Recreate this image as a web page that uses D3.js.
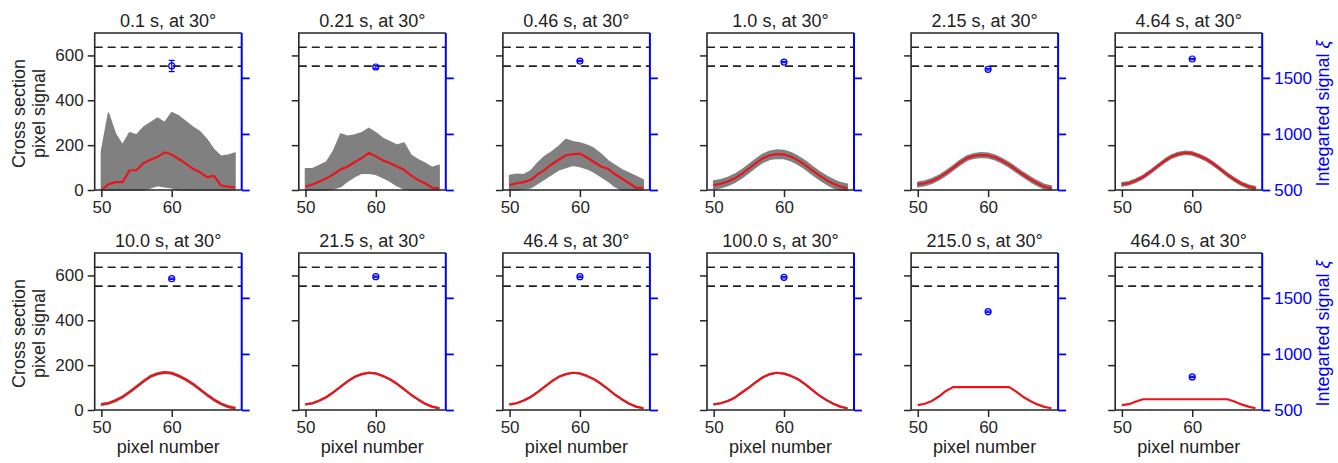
<!DOCTYPE html>
<html>
<head>
<meta charset="utf-8">
<script src="https://cdn.jsdelivr.net/npm/d3@7"></script>
<style>
  body { margin: 0; background: #fff; }
  text { font-family: Arial, 'Liberation Sans', sans-serif; fill: #222; }
</style>
</head>
<body>
<script>
const pixels = [50, 51, 52, 53, 54, 55, 56, 57, 58, 59, 60, 61, 62, 63, 64, 65, 66, 67, 68, 69];

const times = ['0.1', '0.21', '0.46', '1.0', '2.15', '4.64', '10.0', '21.5', '46.4', '100.0', '215.0', '464.0'];

// mean cross section (red line), one array per exposure time
const meanProfiles = [
  [0, 25, 35, 35, 88, 88, 120, 135, 148, 168, 158, 138, 118, 95, 80, 57, 63, 20, 15, 12],
  [15, 25, 38, 52, 70, 92, 105, 125, 142, 166, 150, 132, 120, 105, 90, 65, 45, 30, 10, 8],
  [22, 30, 35, 45, 70, 90, 115, 135, 155, 160, 162, 145, 125, 105, 95, 70, 50, 30, 10, 10],
  [22, 28, 38, 52, 72, 95, 120, 142, 155, 160, 158, 148, 132, 112, 88, 65, 45, 28, 15, 8],
  [25, 30, 40, 55, 75, 98, 122, 142, 152, 156, 154, 145, 130, 112, 90, 68, 48, 30, 15, 8],
  [25, 30, 42, 58, 80, 104, 128, 148, 160, 166, 163, 152, 137, 117, 93, 68, 47, 28, 15, 8],
  [25, 30, 42, 58, 80, 104, 128, 150, 162, 168, 164, 152, 136, 116, 92, 68, 46, 28, 15, 8],
  [25, 30, 42, 58, 80, 104, 128, 148, 160, 166, 163, 152, 137, 117, 93, 68, 47, 28, 15, 8],
  [25, 30, 42, 58, 80, 104, 128, 148, 160, 166, 163, 152, 137, 117, 93, 68, 47, 28, 15, 8],
  [25, 30, 40, 55, 78, 100, 124, 146, 160, 166, 162, 152, 137, 115, 90, 65, 45, 28, 15, 8],
  [22, 28, 40, 60, 85, 102, 102, 102, 102, 102, 102, 102, 102, 102, 82, 58, 40, 25, 14, 8],
  [22, 26, 38, 48, 48, 48, 48, 48, 48, 48, 48, 48, 48, 48, 48, 48, 38, 25, 15, 8],
];

// envelope of the single-frame traces (grey) for the noisy short exposures
const grayUpper = [
  [170, 342, 250, 200, 255, 245, 280, 300, 320, 300, 345, 330, 305, 280, 260, 225, 180, 150, 155, 165],
  [95, 95, 110, 125, 175, 250, 240, 245, 255, 275, 255, 230, 215, 200, 210, 155, 135, 120, 100, 110],
  [65, 70, 68, 85, 120, 150, 170, 195, 225, 215, 210, 200, 185, 160, 130, 110, 90, 75, 60, 45],
];
const grayLower = [
  [0, 0, 0, 0, 0, 0, 0, 10, 20, 15, 10, 0, 0, 0, 0, 0, 0, 0, 0, 0],
  [0, 0, 0, 0, 5, 15, 40, 60, 75, 75, 70, 55, 40, 20, 5, 0, 0, 0, 0, 0],
  [0, 0, 5, 10, 30, 50, 70, 90, 100, 110, 105, 95, 80, 60, 40, 15, 0, 0, 0, 0],
];
// half width of the grey band for the longer exposures
const graySpread = [null, null, null, 18, 10, 7, 4, 2, 1.5, 1.5, 0, 0];

// integrated signal xi (right axis) with error
const xi = [1606, 1597, 1650, 1641, 1576, 1668, 1671, 1689, 1689, 1683, 1377, 795];
const xiErr = [50, 12, 6, 6, 6, 6, 6, 6, 6, 6, 6, 6];
const xiLimits = [1773, 1605];

const leftTicks = [0, 200, 400, 600];
const rightTicks = [500, 1000, 1500];
const bottomTicks = [50, 60];

const WIDTH = 1338;
const HEIGHT = 463;
const PW = 147;
const PH = 157;
const COL_X = 94.7;
const COL_STEP = 204.1;
const ROW_Y = [33, 253];
const BLUE = '#0000ff';
const DARK = '#262626';
const TICK_FONT = '17px';
const LABEL_FONT = '18px';

const svg = d3.select('body').append('svg')
    .attr('width', WIDTH)
    .attr('height', HEIGHT);

const x = d3.scaleLinear().domain([49.05, 69.95]).range([0, PW]);
const yL = d3.scaleLinear().domain([0, 700]).range([PH, 0]);
const yR = d3.scaleLinear().domain([500, 1900]).range([PH, 0]);

const line = d3.line().x((d) => x(d[0])).y((d) => yL(d[1]));
const band = d3.area()
    .x((d) => x(d[0]))
    .y0((d) => yL(d[1]))
    .y1((d) => yL(d[2]));

times.forEach((t, i) => {
  const col = i % 6;
  const row = Math.floor(i / 6);
  const g = svg.append('g')
      .attr('transform', `translate(${COL_X + col * COL_STEP}, ${ROW_Y[row]})`);

  // grey band of individual traces
  let lo;
  let hi;
  if (i < grayUpper.length) {
    lo = grayLower[i];
    hi = grayUpper[i];
  } else if (graySpread[i]) {
    lo = meanProfiles[i].map((v) => Math.max(0, v - graySpread[i]));
    hi = meanProfiles[i].map((v) => v + graySpread[i]);
  }
  if (lo) {
    const bandData = pixels.map((p, k) => [p, lo[k], hi[k]]);
    g.append('path')
        .datum(bandData)
        .attr('d', band)
        .attr('fill', '#808080')
        .attr('stroke', '#808080')
        .attr('stroke-width', 1.5)
        .attr('stroke-linejoin', 'round');
  }

  // mean profile
  g.append('path')
      .datum(pixels.map((p, k) => [p, meanProfiles[i][k]]))
      .attr('d', line)
      .attr('fill', 'none')
      .attr('stroke', '#e8151b')
      .attr('stroke-width', 2.2)
      .attr('stroke-linejoin', 'round');

  // dashed reference levels
  g.selectAll('line.limit')
      .data(xiLimits)
      .join('line')
      .attr('class', 'limit')
      .attr('x1', 0)
      .attr('x2', PW)
      .attr('y1', (d) => yR(d))
      .attr('y2', (d) => yR(d))
      .attr('stroke', '#222')
      .attr('stroke-width', 1.6)
      .attr('stroke-dasharray', '8,5');

  // integrated signal point with error bar
  const px = x(60);
  const py = yR(xi[i]);
  const pTop = yR(xi[i] + xiErr[i]);
  const pBot = yR(xi[i] - xiErr[i]);
  g.append('line')
      .attr('x1', px).attr('x2', px)
      .attr('y1', pTop).attr('y2', pBot)
      .attr('stroke', BLUE)
      .attr('stroke-width', 1.2);
  [pTop, pBot].forEach((cy) => {
    g.append('line')
        .attr('x1', px - 3).attr('x2', px + 3)
        .attr('y1', cy).attr('y2', cy)
        .attr('stroke', BLUE)
        .attr('stroke-width', 1.2);
  });
  g.append('circle')
      .attr('cx', px)
      .attr('cy', py)
      .attr('r', 3)
      .attr('fill', 'none')
      .attr('stroke', BLUE)
      .attr('stroke-width', 1.2);

  // axes
  const left = g.append('g')
      .call(d3.axisLeft(yL).tickValues(leftTicks).tickSize(7).tickPadding(4)
          .tickFormat(col === 0 ? d3.format('d') : () => ''));
  const bottom = g.append('g')
      .attr('transform', `translate(0, ${PH})`)
      .call(d3.axisBottom(x).tickValues(bottomTicks).tickSize(7).tickPadding(4));
  const right = g.append('g')
      .attr('transform', `translate(${PW}, 0)`)
      .call(d3.axisRight(yR).tickValues(rightTicks).tickSize(8).tickPadding(4)
          .tickFormat(col === 5 ? d3.format('d') : () => ''));

  [left, bottom, right].forEach((a) => {
    a.select('.domain').remove();
    a.selectAll('text')
        .style('font-size', TICK_FONT)
        .style('font-family', 'Arial, "Liberation Sans", sans-serif');
  });
  left.selectAll('line').attr('stroke', DARK).attr('stroke-width', 1.5);
  bottom.selectAll('line').attr('stroke', DARK).attr('stroke-width', 1.5);
  left.selectAll('text').style('fill', DARK);
  bottom.selectAll('text').style('fill', DARK);
  right.selectAll('line').attr('stroke', BLUE).attr('stroke-width', 1.8);
  right.selectAll('text').style('fill', BLUE);

  // spines
  g.append('path')
      .attr('d', `M${PW},0H0V${PH}H${PW}`)
      .attr('fill', 'none')
      .attr('stroke', DARK)
      .attr('stroke-width', 1.6);
  g.append('line')
      .attr('x1', PW).attr('x2', PW)
      .attr('y1', 0).attr('y2', PH)
      .attr('stroke', BLUE)
      .attr('stroke-width', 2);

  // title
  g.append('text')
      .attr('x', PW / 2)
      .attr('y', -6)
      .attr('text-anchor', 'middle')
      .style('font-size', LABEL_FONT)
      .text(`${t} s, at 30°`);

  if (row === 1) {
    g.append('text')
        .attr('x', PW / 2)
        .attr('y', PH + 43)
        .attr('text-anchor', 'middle')
        .style('font-size', LABEL_FONT)
        .text('pixel number');
  }

  if (col === 0) {
    const yl = g.append('text')
        .attr('transform', `translate(-70, ${PH / 2 + 2}) rotate(-90)`)
        .attr('text-anchor', 'middle')
        .style('font-size', LABEL_FONT);
    yl.append('tspan').attr('x', 0).attr('dy', 0).text('Cross section');
    yl.append('tspan').attr('x', 0).attr('dy', 20).text('pixel signal');
  }

  if (col === 5) {
    const yr = g.append('text')
        .attr('transform', `translate(${PW + 67}, ${PH / 2 + 2}) rotate(-90)`)
        .attr('text-anchor', 'middle')
        .style('font-size', LABEL_FONT)
        .style('fill', BLUE);
    yr.append('tspan').text('Integarted signal ');
    yr.append('tspan').style('font-style', 'italic').text('ξ');
  }
});
</script>
</body>
</html>
